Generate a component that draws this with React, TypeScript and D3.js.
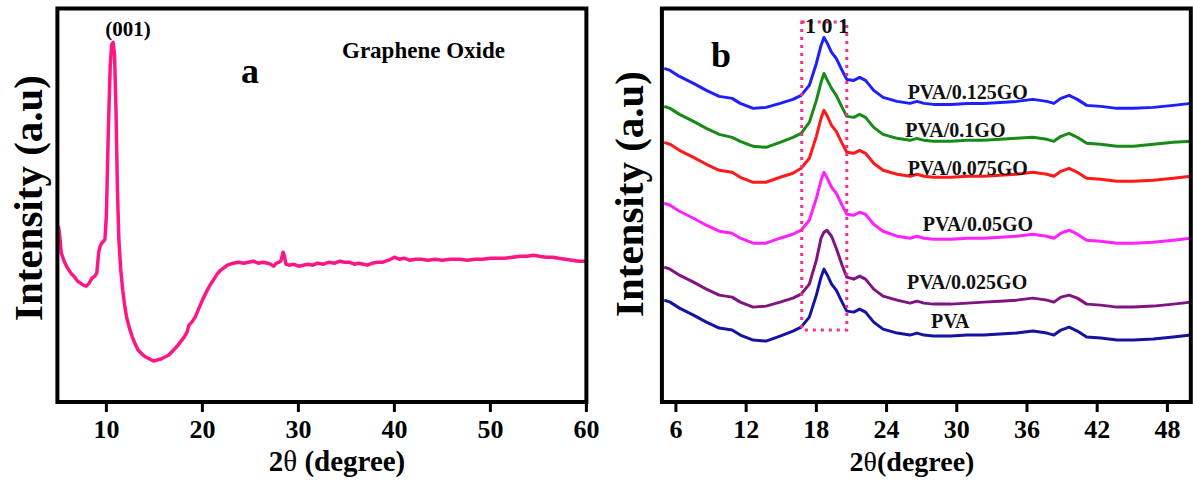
import React from 'react';
import * as d3 from 'd3';

// ---------- Panel a : Graphene Oxide ----------
const goTheta = [5.0, 5.15, 5.3, 5.6, 5.9, 6.3, 6.7, 7.0, 7.3, 7.6, 7.9, 8.2, 8.5, 8.8, 9.0, 9.2, 9.35, 9.5, 9.7, 9.85, 10.0, 10.2, 10.4, 10.55, 10.7, 10.85, 11.0, 11.15, 11.3, 11.5, 11.7, 11.9, 12.1, 12.4, 12.7, 13.0, 13.3, 13.7, 14.1, 14.5, 14.9, 15.3, 15.7, 16.1, 16.5, 16.9, 17.3, 17.7, 18.1, 18.4, 18.6, 18.9, 19.25, 19.6, 20.0, 20.4, 20.8, 21.2, 21.6, 21.9, 22.2, 22.6, 23.2, 23.8, 24.3, 24.8, 25.3, 25.8, 26.3, 26.8, 27.1, 27.4, 27.7, 28.0, 28.2, 28.4, 28.55, 28.7, 29.0, 29.5, 30.0, 30.5, 31.0, 31.5, 32.0, 32.6, 33.2, 33.8, 34.3, 34.8, 35.3, 35.8, 36.3, 36.8, 37.2, 37.7, 38.2, 38.8, 39.4, 40.0, 40.5, 41.0, 41.6, 42.2, 42.8, 43.5, 44.2, 45.0, 45.8, 46.8, 47.6, 48.4, 49.2, 50.0, 50.7, 51.5, 52.3, 53.1, 53.8, 54.5, 55.1, 55.8, 56.5, 57.1, 57.8, 58.5, 59.2, 60.0];
const goIntensity = [176, 165, 149, 141, 135, 129, 125, 121, 119, 117, 116, 119, 124, 126, 129, 150, 156, 159, 161, 163, 187, 272, 337, 358, 360, 347, 292, 212, 162, 132, 112, 97, 85, 74, 65, 58, 52, 48, 45, 43, 41, 42, 43, 45, 47, 51, 55, 60, 65, 70, 77, 80, 85, 93, 102, 110, 117, 123, 129, 132, 134, 137, 139, 140, 139, 140, 141, 139, 140, 139, 138, 136, 139, 140, 142, 150, 146, 138, 137, 138, 136, 137, 138, 137, 139, 138, 140, 139, 141, 140, 140, 138, 139, 138, 137, 139, 140, 140, 142, 145, 143, 144, 142, 143, 143, 142, 143, 142, 143, 143, 142, 143, 143, 144, 144, 144, 145, 146, 146, 147, 146, 145, 145, 144, 143, 142, 141, 141];

// ---------- Panel b : PVA / GO composites ----------
const pvaTheta = [5.0, 5.5, 6.3, 7.5, 8.6, 9.7, 10.8, 11.5, 12.6, 13.7, 14.9, 16.0, 16.7, 17.4, 18.0, 18.4, 18.65, 18.9, 19.3, 19.7, 20.2, 20.6, 21.2, 21.7, 22.2, 22.9, 23.7, 24.9, 26.0, 26.6, 27.2, 28.0, 29.5, 30.9, 32.3, 33.7, 35.1, 36.5, 37.7, 38.3, 38.9, 39.6, 40.3, 41.1, 42.3, 43.7, 45.1, 46.8, 48.5, 50.0];
const pva0125 = [334, 332, 326, 319, 312, 306, 304, 299, 294, 295, 299, 303, 307, 317, 339, 357, 365, 360, 350, 344, 332, 323, 322, 325, 322, 312, 305, 301, 299, 301, 299, 298, 298, 299, 299, 300, 301, 303, 301, 299, 304, 307, 303, 297, 296, 294, 294, 295, 297, 299];
const pva01 = [296, 294, 288, 281, 274, 268, 265, 261, 256, 255, 260, 265, 269, 280, 302, 320, 329, 323, 314, 307, 295, 286, 285, 288, 285, 275, 268, 264, 262, 264, 262, 261, 261, 262, 262, 263, 264, 265, 263, 261, 266, 269, 265, 259, 258, 256, 256, 258, 260, 261];
const pva0075 = [260, 258, 252, 245, 238, 232, 230, 225, 220, 220, 225, 229, 234, 244, 266, 284, 292, 287, 277, 271, 259, 250, 249, 252, 249, 239, 232, 228, 226, 228, 226, 225, 225, 226, 226, 227, 228, 230, 228, 226, 231, 234, 230, 224, 223, 221, 221, 222, 224, 226];
const pva005 = [199, 197, 191, 184, 177, 171, 169, 164, 159, 159, 164, 168, 172, 182, 204, 222, 230, 225, 215, 209, 197, 188, 187, 190, 188, 178, 171, 166, 164, 166, 164, 163, 163, 164, 164, 165, 166, 168, 166, 164, 169, 172, 168, 162, 161, 159, 159, 160, 162, 164];
const pva0025 = [135, 133, 127, 120, 113, 107, 105, 100, 95, 96, 100, 104, 108, 118, 142, 164, 170, 172, 166, 154, 137, 125, 123, 126, 123, 113, 106, 102, 99, 101, 99, 98, 98, 99, 100, 101, 102, 104, 102, 100, 105, 107, 104, 98, 97, 95, 95, 96, 98, 100];
const pvaPure = [102, 100, 94, 87, 80, 74, 72, 67, 62, 61, 66, 71, 75, 85, 107, 125, 133, 128, 118, 112, 100, 91, 90, 93, 90, 80, 73, 69, 67, 69, 67, 66, 66, 67, 67, 68, 69, 71, 69, 67, 72, 75, 71, 65, 64, 62, 62, 63, 65, 67];

const seriesNames = ['PVA/0.125GO', 'PVA/0.1GO', 'PVA/0.075GO', 'PVA/0.05GO', 'PVA/0.025GO', 'PVA'];
const seriesValues = [pva0125, pva01, pva0075, pva005, pva0025, pvaPure];
const seriesColors = ['#1e1eff', '#178a17', '#ff1a1a', '#ff22ff', '#801480', '#1414a0'];
// label anchor positions in data units (2θ, intensity)
const labelTheta = [25.8, 25.6, 25.8, 27.1, 25.75, 27.8];
const labelIntensity = [303, 265, 227, 171, 113, 74];

const ticksA = [10, 20, 30, 40, 50, 60];
const ticksB = [6, 12, 18, 24, 30, 36, 42, 48];
const peakBox = [16.75, 20.6]; // 2θ range of dotted box

const FONT = '"Liberation Serif", "Times New Roman", serif';

export default function App() {
  const top = 8.5;
  const bottom = 402;
  const yScale = d3.scaleLinear().domain([0, 394]).range([bottom, top]);

  const xA = d3.scaleLinear().domain([5, 60]).range([58.4, 586.4]);
  const xB = d3.scaleLinear().domain([4.8, 50]).range([661.9, 1190.8]);

  const lineA = d3
    .line<number>()
    .x((_, i) => xA(goTheta[i]))
    .y((d) => yScale(d));

  const lineB = d3
    .line<number>()
    .x((_, i) => xB(pvaTheta[i]))
    .y((d) => yScale(d));

  const boxL = xB(peakBox[0]);
  const boxR = xB(peakBox[1]);

  return (
    <svg
      width={1193}
      height={490}
      style={{ position: 'absolute', left: 0, top: 0, background: '#fff' }}
      fontFamily={FONT}
      fontWeight="bold"
    >
      <rect x={0} y={0} width={1193} height={490} fill="#fff" />

      {/* ---------------- Panel a ---------------- */}
      <path d={lineA(goIntensity) || ''} fill="none" stroke="#ff1685" strokeWidth={3.5} strokeLinejoin="round" />
      <rect x={xA(5) - 1} y={top} width={xA(60) - xA(5) + 1} height={bottom - top} fill="none" stroke="#000" strokeWidth={4} />
      {ticksA.map((t) => (
        <g key={'ta' + t}>
          <line x1={xA(t)} x2={xA(t)} y1={bottom} y2={bottom + 10} stroke="#000" strokeWidth={3} />
          <text x={xA(t)} y={438} fontSize={26} textAnchor="middle">{t}</text>
        </g>
      ))}
      <text x={337} y={471} fontSize={29} textAnchor="middle">
        2<tspan fontWeight="normal">θ</tspan> (degree)
      </text>
      <text transform="translate(42,198) rotate(-90)" fontSize={41} textAnchor="middle">Intensity (a.u)</text>
      <text x={128} y={36} fontSize={21} textAnchor="middle">(001)</text>
      <text x={342} y={58} fontSize={23}>Graphene Oxide</text>
      <text x={250} y={83} fontSize={36} textAnchor="middle">a</text>

      {/* ---------------- Panel b ---------------- */}
      {seriesValues.map((vals, k) => (
        <path key={'s' + k} d={lineB(vals) || ''} fill="none" stroke={seriesColors[k]} strokeWidth={3} strokeLinejoin="round" />
      ))}
      <rect
        x={boxL}
        y={22}
        width={boxR - boxL}
        height={330 - 22}
        fill="none"
        stroke="#ff2a8c"
        strokeWidth={3}
        strokeDasharray="3 5"
      />
      <text x={805} y={33} fontSize={22} fill="#111">1 0 1</text>
      <rect x={661.9} y={top} width={1190.8 - 661.9} height={bottom - top} fill="none" stroke="#000" strokeWidth={4} />
      {ticksB.map((t) => (
        <g key={'tb' + t}>
          <line x1={xB(t)} x2={xB(t)} y1={bottom} y2={bottom + 10} stroke="#000" strokeWidth={3} />
          <text x={xB(t)} y={438} fontSize={26} textAnchor="middle">{t}</text>
        </g>
      ))}
      <text x={912} y={471} fontSize={28} textAnchor="middle">
        2<tspan fontWeight="normal">θ</tspan>(degree)
      </text>
      <text transform="translate(643,194) rotate(-90)" fontSize={41} textAnchor="middle">Intensity (a.u)</text>
      <text x={721} y={67} fontSize={36} textAnchor="middle">b</text>
      {seriesNames.map((n, k) => (
        <text key={'l' + k} x={xB(labelTheta[k])} y={yScale(labelIntensity[k])} fontSize={20} fill="#111">
          {n}
        </text>
      ))}
    </svg>
  );
}
